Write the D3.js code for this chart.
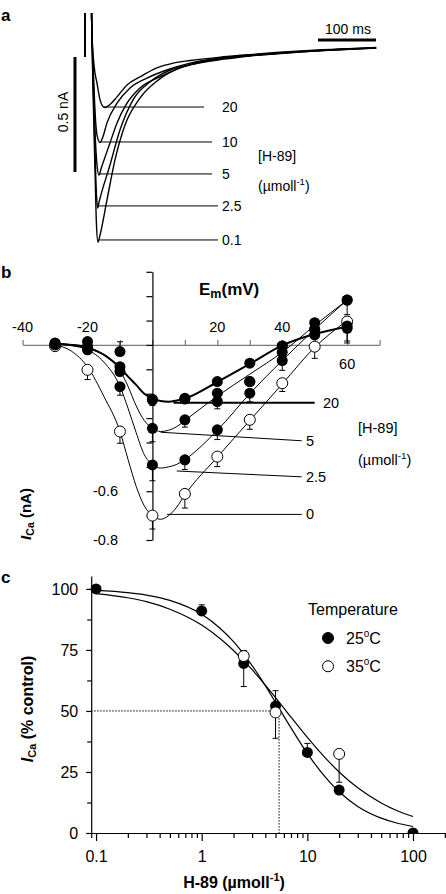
<!DOCTYPE html>
<html><head><meta charset="utf-8">
<script src="https://cdn.jsdelivr.net/npm/d3@7"></script>
<style>body{margin:0;background:#fff}svg{display:block;font-family:"Liberation Sans",Arial,Helvetica,sans-serif}</style>
</head><body><svg id="c" width="446" height="894"></svg>
<script>
// ---------- Panel a: current traces [time ms, current nA] ----------
const concA = ["20", "10", "5", "2.5", "0.1"];
const trace20 = [[0,-0.057],[1.2,0.5],[9.5,0.5],[11.8,0.06],[15.5,-0.09],[20.7,-0.17],[25.9,-0.243],[31,-0.272],[34,-0.276],[38,-0.272],[43.1,-0.263],[55.2,-0.230],[72.4,-0.178],[94.8,-0.143],[124,-0.104],[152,-0.083],[181,-0.072],[230,-0.058],[284,-0.046],[330,-0.037],[371,-0.030],[410,-0.025],[440,-0.022],[470,-0.018],[502,-0.015]];
const trace10 = [[0,-0.057],[1.2,0.5],[9.5,0.5],[11.5,0.1],[13.8,-0.07],[17.2,-0.287],[20.7,-0.396],[25.9,-0.428],[30,-0.41],[37.9,-0.343],[55.2,-0.257],[77.6,-0.191],[107,-0.148],[141,-0.113],[181,-0.083],[230,-0.062],[284,-0.049],[330,-0.040],[371,-0.032],[410,-0.027],[440,-0.023],[470,-0.020],[502,-0.017]];
const trace5 = [[0,-0.057],[1.2,0.5],[9.5,0.5],[11.5,0.1],[13.8,-0.113],[17.2,-0.374],[20.7,-0.526],[24.1,-0.570],[28,-0.54],[43.1,-0.430],[55.2,-0.343],[72.4,-0.257],[94.8,-0.191],[129,-0.143],[172,-0.096],[230,-0.064],[284,-0.050],[330,-0.041],[371,-0.033],[410,-0.027],[440,-0.024],[470,-0.020],[502,-0.017]];
const trace2_5 = [[0,-0.057],[1.2,0.5],[9.5,0.5],[11.5,0.1],[13.8,-0.157],[17.2,-0.461],[19.8,-0.657],[21.9,-0.713],[24,-0.69],[43.1,-0.526],[60.3,-0.374],[82.8,-0.243],[112,-0.165],[147,-0.113],[190,-0.085],[230,-0.066],[284,-0.051],[330,-0.042],[371,-0.034],[410,-0.028],[440,-0.024],[470,-0.021],[502,-0.018]];
const trace0_1 = [[0,-0.057],[1.2,0.5],[9.5,0.5],[11.5,0.1],[13.8,-0.20],[17.2,-0.548],[19.8,-0.787],[22.4,-0.862],[25,-0.84],[37.9,-0.678],[51.7,-0.504],[69,-0.352],[94.8,-0.235],[126,-0.157],[164,-0.104],[198,-0.082],[240,-0.066],[284,-0.052],[330,-0.043],[371,-0.035],[410,-0.029],[440,-0.025],[470,-0.021],[502,-0.018]];
const leaderA_t = [33, 26, 24, 22, 24];           // ms
const leaderA_I = [-0.274, -0.426, -0.565, -0.704, -0.852]; // nA

// ---------- Panel b: I-V relation ----------
const voltB = [-30, -20, -10, 0, 10, 20, 30, 40, 50, 60];
const ivFilled20 = [0.005, -0.007, -0.089, -0.223, -0.219, -0.150, -0.075, -0.004, 0.041, 0.068];
const ivFilled10 = [0.008, 0.014, -0.027, -0.226, -0.222, -0.232, -0.150, -0.004, 0.064, 0.078];
const ivFilled5 = [0.003, -0.012, -0.109, -0.342, -0.307, -0.198, -0.150, -0.030, 0.091, 0.184];
const ivFilled2_5 = [0.0, -0.02, -0.171, -0.492, -0.471, -0.348, -0.198, -0.064, 0.064, 0.184];
const ivOpen0 = [-0.005, -0.102, -0.355, -0.700, -0.611, -0.458, -0.307, -0.157, -0.007, 0.096];
const errFilled20 = [0, 0, 0, -0.025, -0.02, 0, 0, 0, 0, -0.06];
const errFilled10 = [0, 0, 0.04, 0, 0, -0.03, 0, 0, 0, 0];
const errFilled5 = [0, 0, 0, -0.055, -0.03, 0, 0, 0, 0, -0.06];
const errFilled2_5 = [0, 0, -0.035, -0.065, -0.04, -0.04, -0.035, -0.04, 0, 0];
const errOpen0 = [0, -0.04, -0.048, -0.055, -0.058, -0.041, -0.039, -0.034, -0.048, -0.08];
const fitVolt = [-30, -25, -20, -15, -10, -7.5, -5, -2.5, 0, 2.5, 5, 7.5, 10, 20, 30, 40, 50, 60];
const fitIV20 = [0.005, 0.0, -0.012, -0.04, -0.094, -0.13, -0.164, -0.2, -0.218, -0.23, -0.233, -0.228, -0.22, -0.152, -0.078, -0.002, 0.045, 0.075];
const fitIV5 = [0.005, 0.002, -0.008, -0.04, -0.105, -0.17, -0.25, -0.31, -0.342, -0.355, -0.35, -0.335, -0.31, -0.21, -0.12, -0.03, 0.08, 0.184];
const fitIV2_5 = [0.003, -0.003, -0.02, -0.07, -0.17, -0.26, -0.36, -0.45, -0.49, -0.505, -0.50, -0.49, -0.47, -0.35, -0.20, -0.064, 0.064, 0.184];
const fitIV0 = [0.0, -0.025, -0.09, -0.21, -0.355, -0.47, -0.58, -0.66, -0.70, -0.715, -0.70, -0.665, -0.615, -0.46, -0.31, -0.16, -0.01, 0.10];
const labelsB = ["20", "5", "2.5", "0"];
const leaderB_from = [[6.5, -0.237], [2.5, -0.358], [7.5, -0.517], [4.5, -0.695]];
const leaderB_to = [[50, -0.237], [46, -0.393], [46, -0.541], [46, -0.695]];
const xTicksB = [-40, -30, -20, -10, 0, 10, 20, 30, 40, 50, 60, 70];
const xLabelsB = [-40, -20, 20, 40];
const yTicksB = [0.3, 0.2, 0.1, 0, -0.1, -0.2, -0.3, -0.4, -0.5, -0.6, -0.7, -0.8];
const yLabelsB = [-0.6, -0.8];

// ---------- Panel c: concentration-response ----------
const concC25 = [0.1, 1, 2.5, 5, 10, 20, 100];
const pct25 = [100, 91, 69.5, 52, 33, 17.6, 0];
const err25 = [0, 2.5, -9.5, 6.3, 3.7, 0, 0];
const concC35 = [2.5, 5, 20];
const pct35 = [72.5, 49.4, 32.4];
const err35 = [2.3, -10.6, -11.6];
const fitConc = [0.1, 0.2, 0.3, 0.5, 1, 1.5, 2, 3, 4, 5, 7, 10, 15, 20, 30, 50, 70, 100];
const fit25 = [99.4, 98.5, 97.5, 95.3, 89.6, 83.8, 78.4, 68.6, 60.4, 53.5, 43.1, 32.6, 22.6, 16.9, 10.9, 6.1, 4.1, 2.65];
const fit35 = [98.1, 96.4, 94.8, 91.7, 85.2, 79.6, 74.8, 66.9, 60.6, 55.5, 47.5, 39.2, 30.5, 25.0, 18.5, 12.3, 9.2, 6.75];
const ic50 = 5.4;
const xTicksC = [0.1, 1, 10, 100];
const xMinorC = [0.09, 0.2, 0.3, 0.4, 0.5, 0.6, 0.7, 0.8, 0.9, 2, 3, 4, 5, 6, 7, 8, 9, 20, 30, 40, 50, 60, 70, 80, 90, 200];
const yTicksC = [0, 25, 50, 75, 100];
const yMinorC = [12.5, 37.5, 62.5, 87.5];
const legendC = ["25", "35"];

// =====================================================
const svg = d3.select("#c");
svg.append("rect").attr("width", 446).attr("height", 894).attr("fill", "#fff");
const defs = svg.append("defs");

function txt(g, x, y, s, size, opts = {}) {
  const t = g.append("text").attr("x", x).attr("y", y).attr("font-size", size).text(s);
  if (opts.anchor) t.attr("text-anchor", opts.anchor);
  if (opts.bold) t.attr("font-weight", "bold");
  return t;
}
function unitText(g, x, y, size, bold) {
  const t = g.append("text").attr("x", x).attr("y", y).attr("font-size", size);
  if (bold) t.attr("font-weight", "bold");
  t.append("tspan").text("(µmoll");
  t.append("tspan").attr("font-size", size * 0.68).attr("dy", -size * 0.42).text("-1");
  t.append("tspan").attr("dy", size * 0.42).text(")");
  return t;
}

// panel letters
txt(svg, 1, 21, "a", 17, { bold: true });
txt(svg, 1, 278, "b", 17, { bold: true });
txt(svg, 1, 583, "c", 17, { bold: true });

// ---------------- Panel a ----------------
const xA = d3.scaleLinear().domain([0, 500]).range([85, 375]);
const yA = d3.scaleLinear().domain([0, -1]).range([44, 274]);
defs.append("clipPath").attr("id", "clipA").append("rect").attr("x", 60).attr("y", 13).attr("width", 340).attr("height", 250);
const gA = svg.append("g");
const lineA = d3.line().x(d => xA(d[0])).y(d => yA(d[1])).curve(d3.curveMonotoneX);
const traces = [trace20, trace10, trace5, trace2_5, trace0_1];
gA.append("g").attr("clip-path", "url(#clipA)").selectAll("path").data(traces).join("path")
  .attr("d", lineA).attr("fill", "none").attr("stroke", "#000").attr("stroke-width", 1.4).attr("stroke-linejoin", "round");
const leadEndA = [204, 212, 212, 218, 218];
concA.forEach((c, i) => {
  const y = yA(leaderA_I[i]);
  gA.append("line").attr("x1", xA(leaderA_t[i])).attr("x2", leadEndA[i]).attr("y1", y).attr("y2", y)
    .attr("stroke", "#000").attr("stroke-width", 1);
  txt(gA, 222, y + 5, c, 14);
});
txt(gA, 258, 161, "[H-89]", 14);
unitText(gA, 258, 191, 14, false);
// scale bars
gA.append("line").attr("x1", 75).attr("x2", 75).attr("y1", 57).attr("y2", 57 + (yA(-0.5) - yA(0)))
  .attr("stroke", "#000").attr("stroke-width", 3);
gA.append("text").attr("transform", "translate(67.5,112) rotate(-90)").attr("text-anchor", "middle").attr("font-size", 14).text("0.5 nA");
gA.append("line").attr("x1", 318).attr("x2", 318 + xA(100) - xA(0)).attr("y1", 40).attr("y2", 40)
  .attr("stroke", "#000").attr("stroke-width", 3);
txt(gA, 348, 34, "100 ms", 14, { anchor: "middle" });

// ---------------- Panel b ----------------
const xB = d3.scaleLinear().domain([-40, 70]).range([22.6, 379.6]);
const yB = d3.scaleLinear().domain([0.3, -0.8]).range([271.8, 540]);
const gB = svg.append("g");
// x axis (gray) at I=0
const axXB = gB.append("g").attr("transform", `translate(0,${yB(0)})`)
  .call(d3.axisTop(xB).tickValues(xTicksB).tickSize(5).tickSizeOuter(0).tickFormat(""));
axXB.selectAll("path,line").attr("stroke", "#7a7a7a").attr("stroke-width", 1.2);
xLabelsB.forEach(v => txt(gB, xB(v), yB(0) - 13, String(v), 14.5, { anchor: "middle" }));
txt(gB, xB(60), yB(0) + 24, "60", 14.5, { anchor: "middle" });
// y axis
const axYB = gB.append("g").attr("transform", `translate(${xB(0)},0)`)
  .call(d3.axisLeft(yB).tickValues(yTicksB).tickSize(6).tickSizeOuter(0).tickFormat(""));
axYB.selectAll("path,line").attr("stroke", "#000").attr("stroke-width", 1.2);
yLabelsB.forEach(v => txt(gB, 118, yB(v) + 5, String(v), 14.5, { anchor: "end" }));
// titles
const emT = gB.append("text").attr("x", 199).attr("y", 295).attr("font-size", 17).attr("font-weight", "bold");
emT.append("tspan").text("E");
emT.append("tspan").attr("font-size", 12.5).attr("dy", 3).text("m");
emT.append("tspan").attr("dy", -3).text("(mV)");
const icT = gB.append("text").attr("transform", "translate(31,514) rotate(-90)").attr("text-anchor", "middle")
  .attr("font-size", 15).attr("font-weight", "bold");
icT.append("tspan").attr("font-style", "italic").text("I");
icT.append("tspan").attr("font-size", 10.5).attr("dy", 3).text("Ca");
icT.append("tspan").attr("dy", -3).text(" (nA)");
// fitted curves
const lineB = d3.line().x(d => xB(d[0])).y(d => yB(d[1])).curve(d3.curveMonotoneX);
const fitsB = [[fitIV0, 1], [fitIV2_5, 1], [fitIV5, 1], [fitIV20, 2]];
fitsB.forEach(([arr, w]) => {
  gB.append("path").datum(fitVolt.map((v, i) => [v, arr[i]])).attr("d", lineB)
    .attr("fill", "none").attr("stroke", "#000").attr("stroke-width", w);
});
// leader lines and labels
labelsB.forEach((lab, i) => {
  const f = leaderB_from[i], t = leaderB_to[i];
  gB.append("line").attr("x1", xB(f[0])).attr("y1", yB(f[1])).attr("x2", xB(t[0])).attr("y2", yB(t[1]))
    .attr("stroke", "#000").attr("stroke-width", i === 0 ? 2 : 1);
  txt(gB, i === 0 ? 323 : 306, yB(t[1]) + 5, lab, 14.5);
});
txt(gB, 358, 433, "[H-89]", 14.5);
unitText(gB, 358, 465, 14.5, false);
// error bars and points
function errBars(g, xs, ys, es, xs_, ys_) {
  xs.forEach((x, i) => {
    if (!es[i]) return;
    const px = xs_(x), y0 = ys_(ys[i]), y1 = ys_(ys[i] + es[i]);
    g.append("line").attr("x1", px).attr("x2", px).attr("y1", y0).attr("y2", y1).attr("stroke", "#000").attr("stroke-width", 1);
    g.append("line").attr("x1", px - 3).attr("x2", px + 3).attr("y1", y1).attr("y2", y1).attr("stroke", "#000").attr("stroke-width", 1);
  });
}
const filledB = [[ivFilled20, errFilled20], [ivFilled10, errFilled10], [ivFilled5, errFilled5], [ivFilled2_5, errFilled2_5]];
errBars(gB, voltB, ivOpen0, errOpen0, xB, yB);
filledB.forEach(([v, e]) => errBars(gB, voltB, v, e, xB, yB));
gB.append("g").selectAll("circle").data(voltB.map((v, i) => [v, ivOpen0[i]])).join("circle")
  .attr("cx", d => xB(d[0])).attr("cy", d => yB(d[1])).attr("r", 5.5)
  .attr("fill", "#fff").attr("stroke", "#000").attr("stroke-width", 1);
filledB.forEach(([v]) => {
  gB.append("g").selectAll("circle").data(voltB.map((x, i) => [x, v[i]])).join("circle")
    .attr("cx", d => xB(d[0])).attr("cy", d => yB(d[1])).attr("r", 5.5).attr("fill", "#000");
});

// ---------------- Panel c ----------------
const xC = d3.scaleLog().domain([0.09, 200]).range([91.2, 444.8]);
const yC = d3.scaleLinear().domain([0, 105.3]).range([833, 576]);
const gC = svg.append("g");
gC.append("g").attr("transform", `translate(0,${yC(0)})`)
  .call(d3.axisBottom(xC).tickValues(xTicksC).tickSize(8).tickSizeOuter(0).tickPadding(9.5).tickFormat(d => String(d)));
gC.append("g").attr("transform", `translate(0,${yC(0)})`)
  .call(d3.axisBottom(xC).tickValues(xMinorC).tickSize(5).tickSizeOuter(0).tickFormat(""))
  .select(".domain").remove();
gC.append("g").attr("transform", `translate(${xC(0.09)},0)`)
  .call(d3.axisLeft(yC).tickValues(yTicksC).tickSize(5).tickSizeOuter(0).tickPadding(8));
gC.append("g").attr("transform", `translate(${xC(0.09)},0)`)
  .call(d3.axisLeft(yC).tickValues(yMinorC).tickSize(4).tickSizeOuter(0).tickFormat(""))
  .select(".domain").remove();
gC.selectAll(".tick text").attr("font-size", 16).attr("font-family", "inherit").attr("fill", "#000");
gC.selectAll("path,line").attr("stroke", "#000").attr("stroke-width", 1.2);
// titles
const hT = gC.append("text").attr("x", 234).attr("y", 888).attr("text-anchor", "middle").attr("font-size", 16).attr("font-weight", "bold");
hT.append("tspan").text("H-89 (µmoll");
hT.append("tspan").attr("font-size", 11).attr("dy", -7).text("-1");
hT.append("tspan").attr("dy", 7).text(")");
const icC = gC.append("text").attr("transform", "translate(33,709) rotate(-90)").attr("text-anchor", "middle")
  .attr("font-size", 16).attr("font-weight", "bold");
icC.append("tspan").attr("font-style", "italic").text("I");
icC.append("tspan").attr("font-size", 11).attr("dy", 3).text("Ca");
icC.append("tspan").attr("dy", -3).text(" (% control)");
// fits
const lineC = d3.line().x(d => xC(d[0])).y(d => yC(d[1])).curve(d3.curveMonotoneX);
[fit25, fit35].forEach(arr => {
  gC.append("path").datum(fitConc.map((c, i) => [c, arr[i]])).attr("d", lineC)
    .attr("fill", "none").attr("stroke", "#000").attr("stroke-width", 1.2);
});
// IC50 dotted lines
gC.append("path").attr("d", `M${xC(0.09)},${yC(50)}H${xC(ic50)}V${yC(0)}`)
  .attr("fill", "none").attr("stroke", "#000").attr("stroke-width", 1).attr("stroke-dasharray", "1.5,1.5");
// errors & points
defs.append("clipPath").attr("id", "clipC").append("rect").attr("x", 80).attr("y", 560).attr("width", 366).attr("height", 273);
const gCp = gC.append("g").attr("clip-path", "url(#clipC)");
errBars(gCp, concC25, pct25, err25, xC, yC);
errBars(gCp, concC35, pct35, err35, xC, yC);
gCp.selectAll("circle.f").data(concC25.map((c, i) => [c, pct25[i]])).join("circle").attr("class", "f")
  .attr("cx", d => xC(d[0])).attr("cy", d => yC(d[1])).attr("r", 5.5).attr("fill", "#000");
gCp.selectAll("circle.o").data(concC35.map((c, i) => [c, pct35[i]])).join("circle").attr("class", "o")
  .attr("cx", d => xC(d[0])).attr("cy", d => yC(d[1])).attr("r", 5.5)
  .attr("fill", "#fff").attr("stroke", "#000").attr("stroke-width", 1);
// legend
txt(gC, 308, 615, "Temperature", 16);
legendC.forEach((t, i) => {
  const cy = 638 + i * 28.3;
  gC.append("circle").attr("cx", 328).attr("cy", cy).attr("r", 5.5)
    .attr("fill", i === 0 ? "#000" : "#fff").attr("stroke", "#000").attr("stroke-width", 1);
  const tt = gC.append("text").attr("x", 346).attr("y", cy + 6).attr("font-size", 16);
  tt.append("tspan").text(t);
  tt.append("tspan").attr("font-size", 10).attr("dy", -7).text("o");
  tt.append("tspan").attr("dy", 7).text("C");
});
</script>
</body></html>
